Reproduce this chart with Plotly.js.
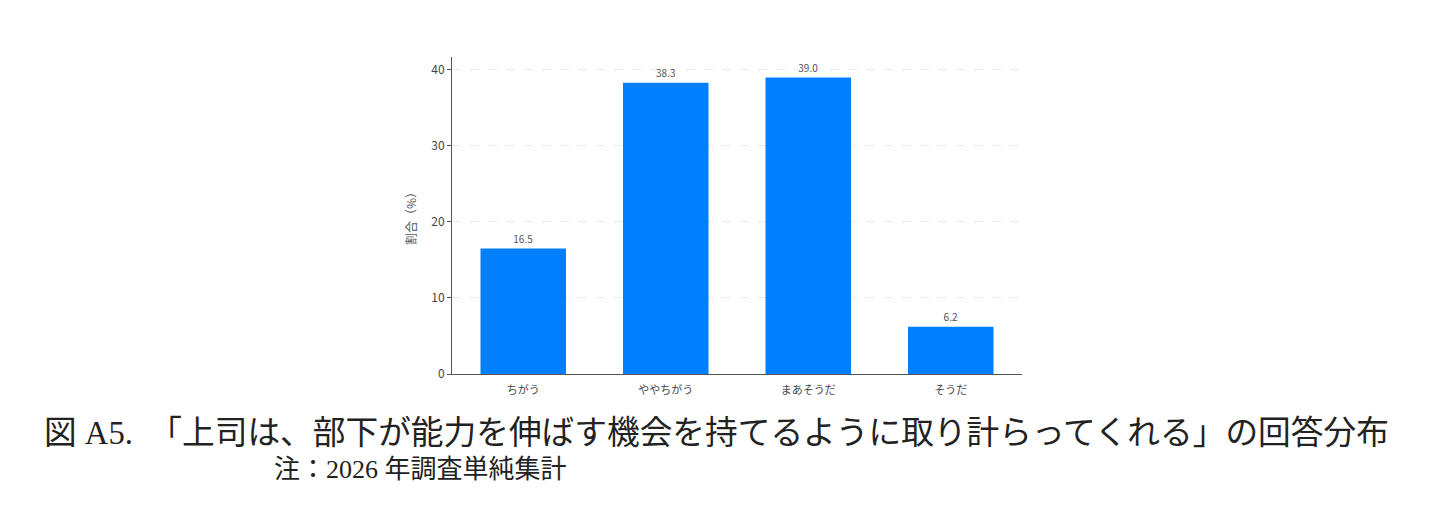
<!DOCTYPE html>
<html>
<head>
<meta charset="utf-8">
<script src="https://cdn.plot.ly/plotly-3.0.1.min.js"></script>
<style>
  html, body { margin: 0; padding: 0; background: white; }
  #myDiv { width: 1429px; height: 514px; }
</style>
</head>
<body>
<div id="myDiv"></div>
<script>
// answers and share (%)
const categories = ["ちがう", "ややちがう", "まあそうだ", "そうだ"];
const values = [16.5, 38.3, 39.0, 6.2];
const valueLabels = ["16.5", "38.3", "39.0", "6.2"];
const yTicks = [0, 10, 20, 30, 40];

const captionText = "図 A5.　「上司は、部下が能力を伸ばす機会を持てるように取り計らってくれる」の回答分布";
const noteText = "注：2026 年調査単純集計";

const jpSans = "'Noto Sans CJK JP', 'DejaVu Sans', sans-serif";
const jpSerif = "'Liberation Serif', 'Noto Sans CJK JP', serif";

// plot area in px, used to place the captions under it
const W = 1429, H = 514;
const margin = { l: 452, r: 407, t: 57, b: 140 };
const plotW = W - margin.l - margin.r;
const plotH = H - margin.t - margin.b;
const px2x = (px) => (px - margin.l) / plotW;
const px2y = (py) => (H - margin.b - py) / plotH;

const data = [
    {
        type: "bar",
        x: categories,
        y: values,
        text: valueLabels,
        textposition: "outside",
        cliponaxis: false,
        textfont: { family: jpSans, size: 10, color: "#555" },
        marker: { color: "#0080ff" },
        width: 0.6,
        hoverinfo: "none",
    },
];

const layout = {
    width: W,
    height: H,
    margin: margin,
    paper_bgcolor: "white",
    plot_bgcolor: "white",
    showlegend: false,
    font: { family: jpSans, color: "#444" },
    bargap: 0.4,
    xaxis: {
        type: "category",
        range: [-0.5, 3.5],
        showline: true,
        linecolor: "#555",
        linewidth: 1,
        showgrid: false,
        ticks: "",
        ticklabelstandoff: 6,
        tickfont: { family: jpSans, size: 11, color: "#444" },
        fixedrange: true,
    },
    yaxis: {
        range: [0, 41.7],
        tickvals: yTicks,
        showline: true,
        linecolor: "#555",
        linewidth: 1,
        ticks: "outside",
        ticklen: 4,
        tickcolor: "#555",
        showgrid: true,
        gridcolor: "#ebebeb",
        griddash: "dash",
        zeroline: false,
        tickfont: { family: jpSans, size: 12, color: "#444" },
        title: {
            text: "割合（%）",
            font: { family: jpSans, size: 12, color: "#555" },
            standoff: 12,
        },
        fixedrange: true,
    },
    annotations: [
        {
            text: captionText,
            xref: "paper",
            yref: "paper",
            x: px2x(42),
            y: px2y(433),
            xanchor: "left",
            yanchor: "middle",
            showarrow: false,
            font: { family: jpSerif, size: 32.7, color: "#222" },
        },
        {
            text: noteText,
            xref: "paper",
            yref: "paper",
            x: px2x(272),
            y: px2y(470),
            xanchor: "left",
            yanchor: "middle",
            showarrow: false,
            font: { family: jpSerif, size: 26, color: "#222" },
        },
    ],
};

Plotly.newPlot("myDiv", data, layout, {
    displayModeBar: false,
    staticPlot: true,
});
</script>
</body>
</html>
